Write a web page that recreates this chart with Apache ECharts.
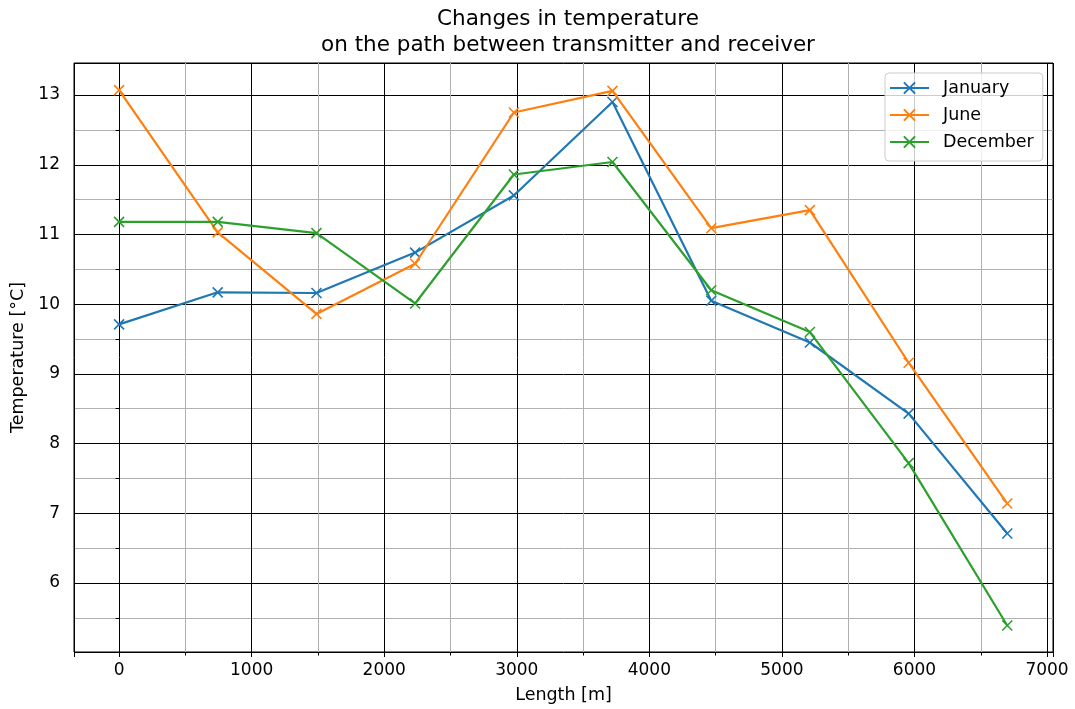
<!DOCTYPE html>
<html>
<head>
<meta charset="utf-8">
<script src="https://cdn.jsdelivr.net/npm/echarts@6/dist/echarts.min.js"></script>
<style>html,body{margin:0;padding:0;background:#fff}#c{width:1075px;height:709px}</style>
</head>
<body>
<div id="c"></div>
<script>
const lengths = [0, 744, 1489, 2233, 2978, 3722, 4467, 5211, 5956, 6700];
const january = [9.71, 10.17, 10.16, 10.74, 11.56, 12.90, 10.05, 9.45, 8.43, 6.71];
const june = [13.07, 11.03, 9.86, 10.58, 12.75, 13.06, 11.09, 11.35, 9.16, 7.14];
const december = [11.18, 11.18, 11.02, 10.01, 11.86, 12.04, 10.20, 9.60, 7.72, 5.39];
const seriesNames = ['January', 'June', 'December'];
const colors = ['#1f77b4', '#ff7f0e', '#2ca02c'];
const titleText = 'Changes in temperature\non the path between transmitter and receiver';
const xName = 'Length [m]';
const yName = 'Temperature [°C]';

const FONT = 'DejaVu Sans';
const xMark = 'path://M0,0L10,10M10,0L0,10';
const allData = [january, june, december];

const chart = echarts.init(document.getElementById('c'), null, {renderer: 'canvas'});
const series = allData.map((vals, i) => ({
  name: seriesNames[i],
  type: 'line',
  data: lengths.map((x, j) => [x, vals[j]]),
  symbol: xMark,
  symbolSize: 10,
  showAllSymbol: true,
  color: colors[i],
  lineStyle: {color: colors[i], width: 2.2},
  itemStyle: {color: colors[i], borderColor: colors[i], borderWidth: 1.6},
  emphasis: {disabled: true},
  animation: false,
  z: 3 + i
}));

const axisCommon = {
  axisLine: {show: false},
  axisTick: {show: true, length: 5, lineStyle: {color: '#000', width: 1}},
  minorTick: {show: true, splitNumber: 2, length: 3.5, lineStyle: {color: '#000', width: 1}},
  splitLine: {show: true, lineStyle: {color: '#000', width: 1}},
  minorSplitLine: {show: true, lineStyle: {color: '#b0b0b0', width: 1}},
  nameLocation: 'middle',
  nameTextStyle: {color: '#000', fontFamily: FONT, fontSize: 17.5}
};

chart.setOption({
  animation: false,
  backgroundColor: '#fff',
  title: {
    text: titleText,
    left: 563,
    top: 1,
    textAlign: 'center',
    textStyle: {fontFamily: FONT, fontSize: 21.5, fontWeight: 'normal', color: '#000', lineHeight: 26}
  },
  legend: {
    orient: 'vertical',
    left: 885,
    top: 73,
    itemWidth: 39,
    itemHeight: 14,
    itemGap: 9,
    padding: [6, 9, 10, 4],
    backgroundColor: 'rgba(255,255,255,0.8)',
    borderColor: '#cccccc',
    borderWidth: 1,
    borderRadius: 4,
    textStyle: {fontFamily: FONT, fontSize: 17.5, color: '#000', padding: [0, 0, 0, 9]},
    data: seriesNames
  },
  grid: {left: 74, right: 22, top: 63, bottom: 57, show: true, borderColor: '#000', borderWidth: 1,
         backgroundColor: 'transparent', containLabel: false, outerBoundsMode: 'none'},
  xAxis: Object.assign({}, axisCommon, {
    type: 'value', min: -340, max: 7045, minInterval: 1000, maxInterval: 1000,
    axisLabel: {color: '#000', fontFamily: FONT, fontSize: 17, margin: 10, showMinLabel: false, showMaxLabel: false,
                formatter: v => String(v)},
    name: xName, nameGap: 34
  }),
  yAxis: Object.assign({}, axisCommon, {
    type: 'value', min: 5.01, max: 13.46, minInterval: 1, maxInterval: 1,
    axisLabel: {color: '#000', fontFamily: FONT, fontSize: 17, margin: 14, showMinLabel: false, showMaxLabel: false,
                formatter: v => String(v)},
    name: yName, nameGap: 44
  }),
  series: series
});
</script>
</body>
</html>
